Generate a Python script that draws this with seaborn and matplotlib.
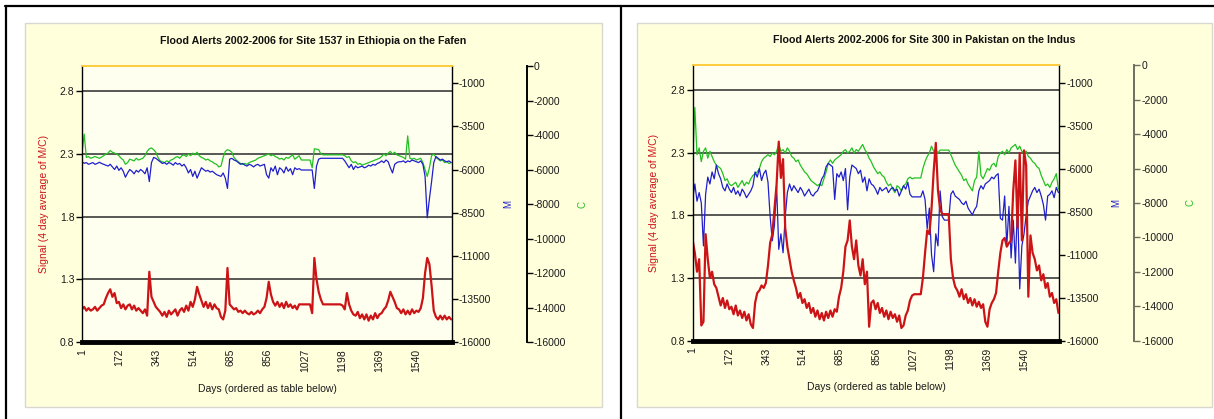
import matplotlib
matplotlib.use("Agg")
import matplotlib.pyplot as plt
import seaborn as sns
from matplotlib.lines import Line2D
from matplotlib.patches import Rectangle

sns.set_style("white")
plt.rcParams['font.family'] = ['Liberation Sans', 'DejaVu Sans']

# ---------------- data ----------------
days = list(range(1, 1702, 10))
xtick_days = [1, 172, 343, 514, 685, 856, 1027, 1198, 1369, 1540]
sig_ticks = [0.8, 1.3, 1.8, 2.3, 2.8]
m_ticks = [-16000, -13500, -11000, -8500, -6000, -3500, -1000]
c_ticks = [0, -2000, -4000, -6000, -8000, -10000, -12000, -14000, -16000]

titles = ["Flood Alerts 2002-2006 for Site 1537 in Ethiopia on the Fafen",
          "Flood Alerts 2002-2006 for Site 300 in Pakistan on the Indus"]

eth_signal = [1.06, 1.08, 1.05, 1.07, 1.05, 1.06, 1.08, 1.05, 1.07, 1.09, 1.10,
              1.15, 1.19, 1.22, 1.16, 1.19, 1.11, 1.12,
              1.07, 1.10, 1.06, 1.09, 1.10, 1.06, 1.09, 1.05, 1.07, 1.05,
              1.03, 1.06, 1.01,
              1.36,
              1.16, 1.12, 1.08, 1.06,
              1.04, 1.01, 1.04, 1.00, 1.05, 1.02, 1.04, 1.06, 1.01, 1.05, 1.07, 1.04,
              1.09, 1.05, 1.12, 1.08, 1.14,
              1.24, 1.18,
              1.13, 1.08, 1.12, 1.07, 1.11, 1.06, 1.10, 1.07, 1.06,
              1.00, 0.98, 1.05,
              1.39,
              1.10, 1.08, 1.06, 1.07, 1.04, 1.05, 1.03, 1.05,
              1.03, 1.02, 1.04, 1.02, 1.03, 1.05, 1.03, 1.06, 1.08,
              1.15, 1.28,
              1.18, 1.12, 1.09, 1.12, 1.08, 1.11, 1.07, 1.12, 1.08, 1.10, 1.07, 1.09, 1.06,
              1.10, 1.10, 1.10, 1.10, 1.10, 1.10, 1.03,
              1.47,
              1.30, 1.20, 1.14,
              1.10, 1.10, 1.10, 1.10, 1.10, 1.10, 1.10, 1.10, 1.10, 1.09,
              1.06, 1.19, 1.10,
              1.05, 1.02, 1.01, 1.04, 0.99, 1.02, 0.98, 1.02, 0.97, 1.01, 0.98, 1.03, 0.99, 1.02,
              1.03, 1.06, 1.08,
              1.13, 1.20, 1.16, 1.12, 1.07, 1.06,
              1.03, 1.06, 1.02, 1.05, 1.02, 1.06, 1.03, 1.05, 1.04, 1.07,
              1.15, 1.35, 1.47, 1.42, 1.25, 1.05,
              1.00, 0.98, 1.01, 0.98, 1.01, 0.98, 1.00, 0.98]

eth_m = [-5550, -5640, -5600, -5700, -5650, -5600, -5700, -5650, -5580, -5650, -5700,
         -5750, -5800, -5700, -5850, -6000, -5800, -6050,
         -5900, -6100, -6450, -6200, -6000, -6100, -6250, -6050, -6150, -6000,
         -6100, -6250, -5900,
         -6700,
         -5600, -5300, -5350, -5450,
         -5550, -5650, -5600, -5700, -5600, -5650, -5750, -5600, -5700, -5650, -5800, -5700,
         -5900, -6200, -6000, -6400, -6100,
         -6500, -6200,
         -5900, -6000, -6100, -6050, -6150, -6100, -6200, -6300, -6350,
         -6400, -6200, -6500,
         -7100,
         -5400, -5350, -5450, -5500, -5600, -5700, -5650, -5750,
         -5800, -5700, -5750, -5850, -5750, -5700, -5800, -5750, -5700,
         -6300, -6500,
         -5900, -6100, -5800, -6300, -5900, -6000, -6200, -5850, -6100, -5950, -6300, -5900, -6000,
         -5950, -6030, -6030, -6030, -6030, -6030, -6030,
         -7100,
         -5800, -5400, -5350,
         -5350, -5350, -5350, -5350, -5350, -5350, -5350, -5350, -5350, -5350,
         -5500, -5700, -5900,
         -5700, -6000, -5800, -5900, -5850, -5800, -5900, -5850, -5750, -5800, -5700, -5750, -5650, -5600,
         -5500, -5600, -5450, -5550, -5900, -6200, -5700, -5600, -5550,
         -5550, -5500, -5600, -5500, -5550, -5450, -5500, -5550, -5600, -5500,
         -5700, -6400, -8800, -7700, -6700, -5600,
         -5250, -5350, -5450, -5400, -5500, -5550, -5500, -5600]

eth_c = [-5060, -3950, -5300, -5250, -5350, -5300, -5250, -5300, -5350, -5280, -5200,
         -5100, -5050, -4900, -5000, -5050, -5100, -5200,
         -5350, -5450, -5700, -5600, -5400, -5450, -5500, -5350, -5450, -5400,
         -5350, -5200, -4950,
         -4800,
         -4750, -4850, -5000, -5300,
         -5500, -5550, -5600, -5500, -5550, -5450, -5400, -5300, -5250, -5350, -5200, -5150,
         -5250, -5100, -5200, -5050, -5150,
         -5000, -5200,
         -5300, -5350, -5450, -5400, -5500, -5550, -5650, -5700, -5850,
         -5800, -5300, -4950,
         -4850,
         -4900, -5000, -5300, -5450, -5550, -5650, -5700, -5650,
         -5700, -5600, -5550, -5500, -5450, -5350, -5300, -5250, -5200,
         -5150, -5100,
         -5200, -5150, -5250, -5300, -5400, -5350, -5450, -5300, -5350, -5250, -5150, -5400, -5300,
         -5200, -5450, -5450, -5450, -5450, -5450, -5900,
         -4800,
         -4820, -4850, -5100,
         -5150, -5150, -5150, -5150, -5150, -5150, -5150, -5150, -5150, -5150,
         -5200, -5300, -5250,
         -5500, -5600, -5550, -5700, -5650, -5750, -5700, -5650, -5600, -5550, -5500, -5450, -5400, -5350,
         -5250, -5100, -5200, -5050, -4950, -5100, -5000, -5150, -5200,
         -5250, -5300, -5400, -4050, -5350, -5400, -5350, -5450, -5400, -5350,
         -5600, -6000, -6400, -5900, -5200, -5100,
         -5300, -5400, -5500, -5450, -5600, -5550, -5650, -5600]

pak_signal = [1.60, 1.50, 1.35, 1.45, 0.92, 0.95, 1.65, 1.45, 1.30, 1.35, 1.25, 1.22,
              1.15, 1.08, 1.14, 1.06, 1.12, 1.05,
              1.07, 1.01, 1.08, 1.00, 1.04, 0.98, 1.03, 0.96, 1.01, 0.93, 0.90,
              1.10, 1.18, 1.20, 1.24, 1.22, 1.26, 1.40,
              1.58, 1.65, 1.85, 2.05, 2.39, 2.10, 2.25, 1.70, 1.55, 1.45, 1.35, 1.28,
              1.22, 1.14, 1.18, 1.10, 1.13, 1.06, 1.10, 1.02, 1.06, 0.99, 1.04,
              0.97, 1.02, 0.96, 1.03, 0.98, 1.04, 0.99, 1.05, 1.03,
              1.15, 1.22, 1.35, 1.55, 1.60, 1.76, 1.55, 1.45, 1.60, 1.40, 1.32, 1.45, 1.25, 1.35, 0.91, 1.10,
              1.12, 1.05, 1.10, 1.02, 1.06, 0.99, 1.04, 0.97, 1.03,
              0.98, 1.01, 0.95, 1.00,
              0.90, 0.92, 1.00, 1.04, 1.12, 1.16,
              1.17, 1.17, 1.17, 1.17, 1.30, 1.50,
              1.68, 1.65, 1.85, 2.15, 2.38, 2.00, 1.85, 1.81, 1.81, 1.81, 1.81, 1.45, 1.30, 1.23,
              1.20, 1.15, 1.21, 1.13, 1.17, 1.10, 1.14, 1.08, 1.13,
              1.07, 1.11, 1.06, 1.09,
              0.95, 0.91, 1.05, 1.10, 1.13, 1.18, 1.35, 1.50, 1.60,
              1.62, 1.55, 1.58, 1.60,
              2.00, 2.24, 1.70, 2.30, 1.60, 2.32, 2.20, 1.15, 1.64, 1.50,
              1.45, 1.36, 1.40, 1.28, 1.33, 1.22, 1.26,
              1.15, 1.18, 1.10, 1.13, 1.02]

pak_m = [-7800, -6900, -7900, -7400, -8000, -10500, -7500, -6500, -6900, -6200, -6600, -5800,
         -6300, -6600, -7100, -7300, -6900, -7200,
         -7400, -7100, -7500, -7300, -7600, -7200, -7400, -7700, -7500, -7300, -7000,
         -6200, -6500, -6000, -6700, -6300, -6100, -6800,
         -8800, -10200, -9300, -7000, -10700, -9800, -10900, -8800, -7400, -6900, -7300, -7000,
         -7200, -7400, -7100, -7300, -7600, -7400, -7200, -7500, -7600, -7400, -7300,
         -7000, -6600, -6400, -5900, -5700, -5800, -5900, -7800, -6300,
         -6500, -6200, -6700, -6000, -8400, -6500, -5800, -5900, -6000, -6300, -6100, -6800, -6500, -7300, -6600, -6900,
         -7000, -7200, -7500, -7100, -7300, -7200, -7100, -7400, -7200,
         -7100, -7300, -7200, -7600,
         -7300, -7000, -7200, -6800, -7500, -7650,
         -7650, -7650, -7650, -7650, -7300, -7800,
         -9500, -8300, -11000, -12000, -9800, -10500, -7300, -8800, -9000, -9000, -9000, -7500, -7300, -7600,
         -7700, -7800, -8000, -8100, -7900, -8300, -8500, -8700, -8400,
         -8200, -7300, -7000, -7200,
         -6900, -6800, -6700, -6500, -6600, -6400, -6300, -8900, -9000,
         -7600, -10500, -8200, -11200,
         -9000, -11500, -8000, -13000, -10500, -9800, -8700, -7900, -7600, -7300,
         -7100, -7400, -7200, -7600, -8100, -9000, -7600,
         -7500, -7300, -7700, -7100, -7400]

pak_c = [-5500, -2450, -5200, -4800, -5600, -5000, -4800, -5400, -5000, -5300, -5600, -5800,
         -5900, -6000, -6300, -6700, -6600, -6900,
         -7000, -6900, -6800, -7100, -6900, -6700, -7000, -6800, -6900, -6600, -6400,
         -6300, -6200, -6000, -5600, -5400, -5300, -5200,
         -5300, -5100, -5200, -5000, -4600, -5000, -4900, -5100, -4800, -5000, -5300, -5400,
         -5600, -5500, -5800, -6000, -6200, -6300, -6500, -6700, -6800, -6900, -7000,
         -6900, -7000, -6600, -6200, -5700, -5500, -5700, -5500, -5400,
         -5300, -5200, -5000, -4900, -5100, -5000, -4800, -5100, -4900, -5000, -4800, -4600, -4900, -5100, -5400, -5600,
         -5900, -6100, -6300, -6200, -6400, -6500, -6800, -7000, -6900,
         -7200, -7400, -7000, -7100,
         -7300, -7000, -6900, -6600, -6500, -6600,
         -6550, -6550, -6550, -6550, -6000, -5600,
         -5300, -5100, -4700, -5000, -4900, -5100, -4930, -4930, -4930, -4930, -4930, -5200, -5500, -5800,
         -6000, -6200, -6400, -6700, -6600, -6900, -7100, -7300, -6700,
         -6500, -5000, -6400, -6600,
         -6300, -6000, -6100, -5800, -5700, -5900, -5300, -5100, -5000,
         -5200, -4900, -5100, -4800,
         -4700, -4600, -4900, -4700, -5000, -5100, -5000, -5300, -5400, -5600,
         -5700, -5900, -6000, -6400, -6700, -7000, -6900,
         -7100, -6800, -6600, -6300, -7200]

# ---------------- style ----------------
W, H = 1214, 419
RED, BLUE, GREEN = "#CC1417", "#1F1FCC", "#22C022"
BOX_BG, PLOT_BG = "#FFFFDC", "#FFFFF0"
TXT = "#1a1a1a"


def fx(px):
    return px / W


def fy(py):
    return 1 - py / H


fig = plt.figure(figsize=(W / 100, H / 100), dpi=100)
fig.patch.set_facecolor("white")

# outer frame lines
for (x0, y0, x1, y1) in [(5, 6, W, 6), (6, 6, 6, H), (621, 6, 621, H)]:
    fig.add_artist(Line2D([fx(x0), fx(x1)], [fy(y0), fy(y1)], transform=fig.transFigure,
                          color="black", lw=1.6, zorder=10))


def panel(box, plot, title, title_xy, sig, m, c, c_off, c_col, lab_x, xlab_y):
    bx0, by0, bx1, by1 = box
    fig.add_artist(Rectangle((fx(bx0), fy(by1)), fx(bx1 - bx0), (by1 - by0) / H,
                             transform=fig.transFigure, facecolor=BOX_BG,
                             edgecolor="#D8D8D0", lw=1.0, zorder=-1))
    px0, py0, px1, py1 = plot
    ax = fig.add_axes([fx(px0), fy(py1), fx(px1 - px0), (py1 - py0) / H])
    ax_m = ax.twinx()
    ax_c = ax.twinx()
    ax_c.set_zorder(1)
    ax_m.set_zorder(2)
    ax.set_zorder(3)
    ax.patch.set_visible(False)
    ax_m.patch.set_visible(False)
    ax_c.patch.set_visible(True)
    ax_c.patch.set_facecolor(PLOT_BG)

    # horizontal reference lines (under the data)
    for g in sig_ticks[1:]:
        ax_c.add_line(Line2D([0, 1], [g, g], transform=ax.get_yaxis_transform(),
                             color="#2a2a2a", lw=1.1, zorder=0.5))

    sns.lineplot(x=days, y=c, ax=ax_c, color=GREEN, linewidth=0.9,
                 estimator=None, sort=False, legend=False)
    sns.lineplot(x=days, y=m, ax=ax_m, color=BLUE, linewidth=0.9,
                 estimator=None, sort=False, legend=False)
    sns.lineplot(x=days, y=sig, ax=ax, color=RED, linewidth=1.6,
                 estimator=None, sort=False, legend=False)

    for a in (ax, ax_m, ax_c):
        a.set_xlim(1, 1705)
        a.set_xlabel("")
        a.set_ylabel("")
    ax.set_ylim(0.8, 3.0)
    ax_m.set_ylim(-16000, 0)
    ax_c.set_ylim(-16000, 0)

    ax.set_yticks(sig_ticks)
    ax.set_yticklabels([f"{t:.1f}" for t in sig_ticks])
    ax.set_xticks(xtick_days)
    ax.set_xticklabels([str(d) for d in xtick_days], rotation=90)
    ax_m.set_yticks(m_ticks)
    ax_m.set_yticklabels([str(t) for t in m_ticks])
    ax_c.set_yticks(c_ticks)
    ax_c.set_yticklabels([str(t) for t in c_ticks])

    ax.tick_params(axis="y", direction="out", length=4, width=1, color="black",
                   labelsize=7.5, labelcolor=TXT, pad=1.5, left=True)
    ax.tick_params(axis="x", length=0, labelsize=7.5, labelcolor=TXT, pad=5, bottom=True)
    ax_m.tick_params(axis="y", direction="out", length=4, width=1, color="black",
                     labelsize=7.5, labelcolor=TXT, pad=1.0, right=True)
    ax_c.tick_params(axis="y", direction="out", length=4, width=1, color=c_col,
                     labelsize=7.5, labelcolor=TXT, pad=1.0, right=True)
    ax_c.tick_params(axis="x", bottom=False, labelbottom=False)

    ax.spines["left"].set_color("black")
    ax.spines["left"].set_linewidth(1.0)
    ax.spines["bottom"].set_color("black")
    ax.spines["bottom"].set_linewidth(3.5)
    ax.spines["top"].set_color("#FFC830")
    ax.spines["top"].set_linewidth(1.3)
    ax.spines["right"].set_visible(False)
    for s in ("left", "top", "bottom"):
        ax_m.spines[s].set_visible(False)
        ax_c.spines[s].set_visible(False)
    ax_m.spines["right"].set_color("black")
    ax_m.spines["right"].set_linewidth(1.0)
    ax_c.spines["right"].set_position(("axes", c_off))
    ax_c.spines["right"].set_color(c_col)
    ax_c.spines["right"].set_linewidth(1.4)

    wpx, hpx = px1 - px0, py1 - py0
    ax.text((lab_x[0] - px0) / wpx, 0.5, "Signal (4 day average of M/C)", transform=ax.transAxes,
            rotation=90, ha="center", va="center", fontsize=7.5, color=RED)
    ax.text((lab_x[1] - px0) / wpx, 0.5, "M", transform=ax.transAxes,
            rotation=90, ha="center", va="center", fontsize=7, color=BLUE)
    ax.text((lab_x[2] - px0) / wpx, 0.5, "C", transform=ax.transAxes,
            rotation=90, ha="center", va="center", fontsize=7, color=GREEN)
    ax.text(0.5, (py1 - xlab_y) / hpx, "Days (ordered as table below)", transform=ax.transAxes,
            ha="center", va="center", fontsize=7.5, color=TXT)
    fig.text(fx(title_xy[0]), fy(title_xy[1]), title, ha="center", va="center",
             fontsize=7.7, fontweight="bold", color="#111111")


panel((25, 23, 601.7, 407), (82, 66, 452, 342), titles[0], (313.3, 41),
      eth_signal, eth_m, eth_c, 1.202, "black", (44, 508, 583), 389)
panel((636.7, 22.7, 1212, 407), (692.7, 65.3, 1059.3, 340.5), titles[1], (924, 40),
      pak_signal, pak_m, pak_c, 1.2046, "#6E6E5E", (654, 1116, 1190), 387)

fig.savefig("out.png", dpi=100)
